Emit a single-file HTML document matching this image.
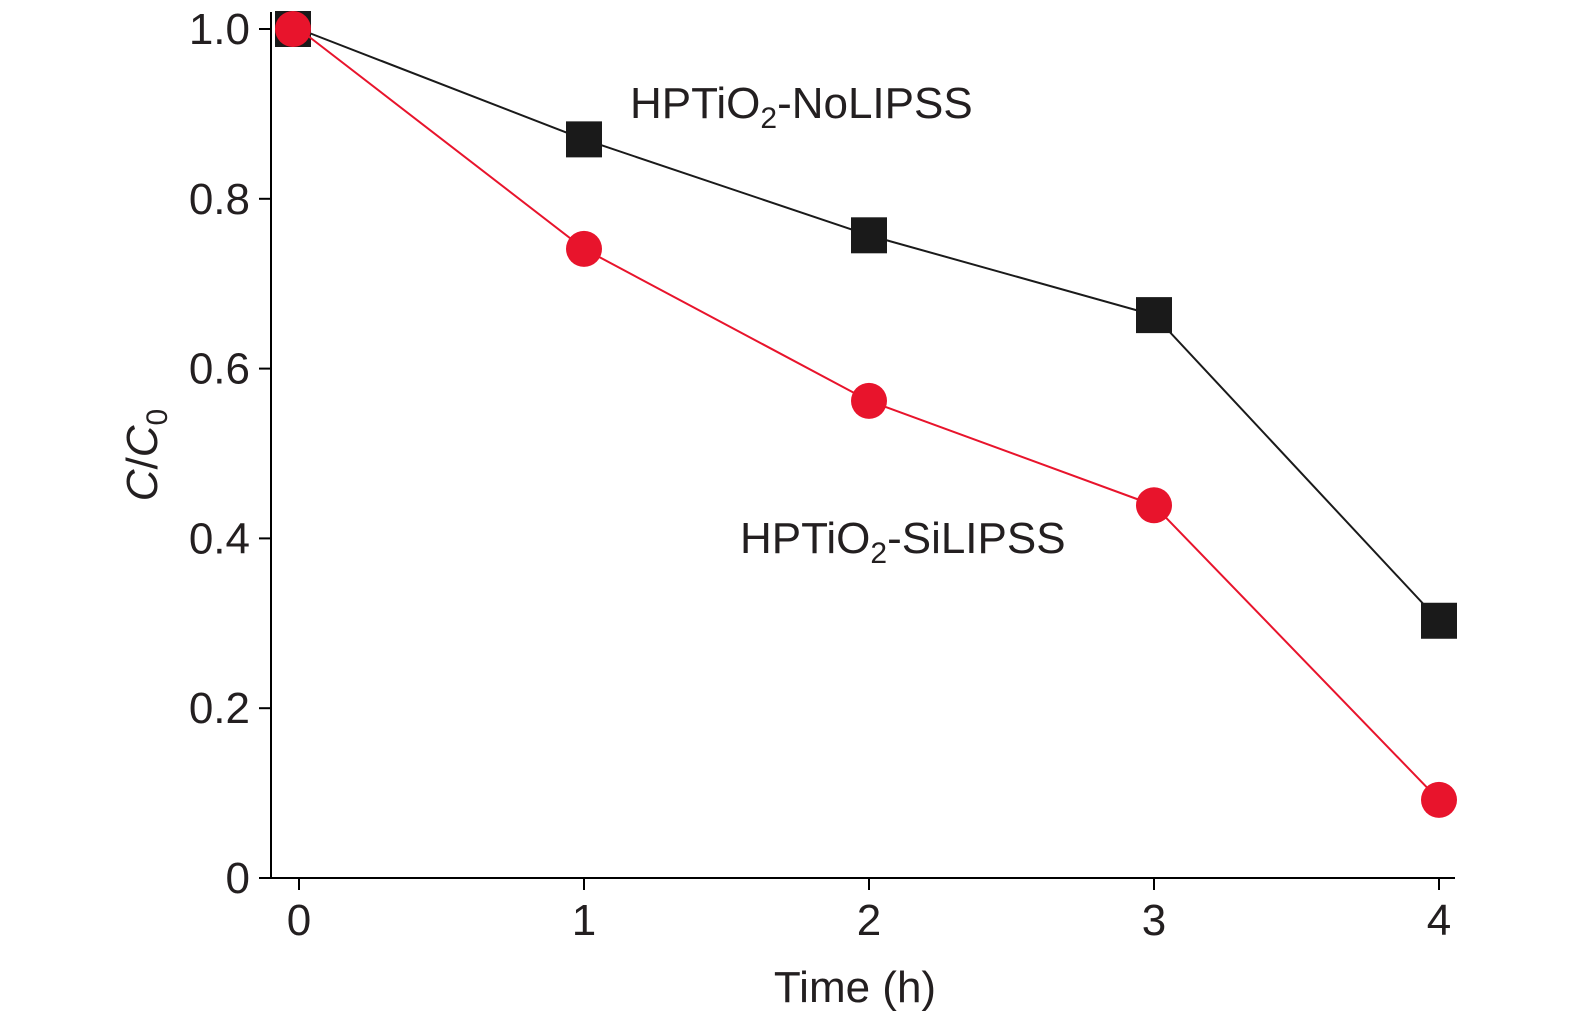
<!DOCTYPE html>
<html><head><meta charset="utf-8"><style>
body{margin:0;background:#fff;}
svg{display:block;font-family:"Liberation Sans",sans-serif;}
</style></head><body>
<svg id="chart" width="1575" height="1020" viewBox="0 0 1575 1020"></svg>
<script>
const xTicks=[0,1,2,3,4];
const yTicks=[0,0.2,0.4,0.6,0.8,1.0];
const yTickLabels=["0","0.2","0.4","0.6","0.8","1.0"];
const times=[0,1,2,3,4];
const noLipss=[1.0,0.87,0.757,0.663,0.303];
const siLipss=[1.0,0.741,0.562,0.439,0.092];
const NS="http://www.w3.org/2000/svg";
const svg=document.getElementById('chart');
const X=v=>299+v*285;
const Y=v=>878-v*849;
function mk(tag,attrs,parent){const e=document.createElementNS(NS,tag);for(const k in attrs)e.setAttribute(k,attrs[k]);(parent||svg).appendChild(e);return e;}
// axes
const ax=mk('path',{d:'M271,12 L271,878 L1455,878',fill:'none',stroke:'#000','stroke-width':2});


xTicks.forEach(t=>{
  const l=mk('line',{x1:X(t),x2:X(t),y1:878,y2:890,stroke:'#000','stroke-width':2});
  
  
  const tx=mk('text',{x:X(t),y:935,'font-size':44,'text-anchor':'middle',fill:'#231f20'});
  tx.textContent=String(t);
  
  
});
yTicks.forEach((t,i)=>{
  const l=mk('line',{x1:259,x2:271,y1:Y(t),y2:Y(t),stroke:'#000','stroke-width':2});
  
  
  const tx=mk('text',{x:250,y:Y(t)+15,'font-size':44,'text-anchor':'end',fill:'#231f20'});
  tx.textContent=yTickLabels[i];
  
  
});
function series(vals,color,shape,name){
  const p=mk('polyline',{points:times.map((t,i)=>X(t)+','+Y(vals[i])).join(' '),fill:'none',stroke:color,'stroke-width':2});
  
  
  times.forEach((t,i)=>{
    let m;
    if(shape==='sq'){const dx=i===0?-6:0;m=mk('rect',{x:X(t)+dx-18,y:Y(vals[i])-18,width:36,height:36,fill:color});}
    else{const dx=i===0?-6:0;m=mk('circle',{cx:X(t)+dx,cy:Y(vals[i]),r:18,fill:color});}
    
    
  });
}
series(noLipss,'#1a1a1a','sq','no-lipss');
series(siLipss,'#e8142c','ci','si-lipss');
</script>
<svg style="position:absolute;left:0;top:0" width="1575" height="1020">
<text x="630" y="118" font-size="44" fill="#231f20" font-family="Liberation Sans,sans-serif">HPTiO<tspan font-size="30" dy="10">2</tspan><tspan dy="-10">-NoLIPSS</tspan></text>
<text x="740" y="553" font-size="44" fill="#231f20" font-family="Liberation Sans,sans-serif">HPTiO<tspan font-size="30" dy="10">2</tspan><tspan dy="-10">-SiLIPSS</tspan></text>
<text x="855" y="1002" font-size="44" text-anchor="middle" fill="#231f20" font-family="Liberation Sans,sans-serif">Time (h)</text>
<text transform="translate(157,455) rotate(-90)" font-size="44" text-anchor="middle" fill="#231f20" font-family="Liberation Sans,sans-serif"><tspan font-style="italic">C</tspan>/<tspan font-style="italic">C</tspan><tspan font-size="30" dy="10">0</tspan></text>
</svg>
</body></html>
